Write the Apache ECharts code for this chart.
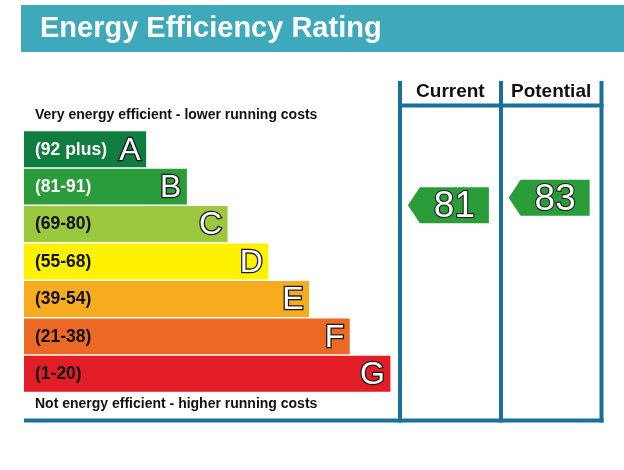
<!DOCTYPE html>
<html><head><meta charset="utf-8">
<script src="https://cdn.jsdelivr.net/npm/echarts@6/dist/echarts.min.js"></script>
<style>html,body{margin:0;padding:0;background:#fff}#c{width:624px;height:470px}</style>
</head><body><div id="c"></div>
<script>
// ---- data ----
const titleText = 'Energy Efficiency Rating';
const topNote = 'Very energy efficient - lower running costs';
const bottomNote = 'Not energy efficient - higher running costs';
const bands = ['A', 'B', 'C', 'D', 'E', 'F', 'G'];
const rangeLabels = ['(92 plus)', '(81-91)', '(69-80)', '(55-68)', '(39-54)', '(21-38)', '(1-20)'];
const bandMin = [92, 81, 69, 55, 39, 21, 1];
const bandMax = [100, 91, 80, 68, 54, 38, 20];
const barLengths = [3, 4, 5, 6, 7, 8, 9];
const columns = ['Current', 'Potential'];
const ratings = [81, 83];

// ---- style ----
const bandColors = ['#0f7d3f', '#2a9c3a', '#9cc83f', '#fff200', '#f7ac20', '#ec6925', '#e31d26'];
const rangeTextColors = ['#ffffff', '#ffffff', '#111111', '#111111', '#111111', '#111111', '#111111'];
const frameColor = '#19709b';
const FONT = '"Liberation Sans", Arial, sans-serif';

function bandIndexOf(v) {
  for (let i = 0; i < bands.length; i++) if (v >= bandMin[i] && v <= bandMax[i]) return i;
  return bands.length - 1;
}
function bandPos(v) {
  const i = bandIndexOf(v);
  return i + 1 - (v - bandMin[i]) / (bandMax[i] - bandMin[i]);
}

const bandData = bands.map((b, i) => [barLengths[i], i]);
const arrowData = ratings.map((v, j) => [j, bandPos(v), v, bandIndexOf(v)]);

const chart = echarts.init(document.getElementById('c'), null, { renderer: 'canvas' });

const GTOP = 130.5, GH = 262;

chart.setOption({
  animation: false,
  backgroundColor: '#ffffff',
  title: {
    text: titleText, left: 40, top: 14, padding: 0,
    textStyle: { color: '#ffffff', fontSize: 29, fontWeight: 'bold', fontFamily: FONT }
  },
  grid: [
    { left: 24, top: GTOP, height: GH, width: 570 },
    { left: 400, top: GTOP, height: GH, width: 201.5 }
  ],
  xAxis: [
    { gridIndex: 0, type: 'value', min: 0, max: 14, show: false },
    { gridIndex: 1, type: 'category', data: columns, position: 'top',
      axisLine: { show: false }, axisTick: { show: false }, splitLine: { show: false },
      axisLabel: { interval: 0, hideOverlap: false, margin: 38.5, verticalAlign: 'middle', color: '#111', fontSize: 19, fontWeight: 'bold', fontFamily: FONT } }
  ],
  yAxis: [
    { gridIndex: 0, type: 'category', data: bands, inverse: true, show: false },
    { gridIndex: 1, type: 'value', min: 0, max: 7, inverse: true, show: false }
  ],
  graphic: [
    { type: 'rect', z: -1, shape: { x: 21, y: 5, width: 603, height: 47 }, style: { fill: '#3ea9ba' } },
    { type: 'text', style: { text: topNote, x: 35, y: 115, verticalAlign: 'middle', font: 'bold 14px ' + FONT, fill: '#111' } },
    { type: 'text', style: { text: bottomNote, x: 35, y: 404, verticalAlign: 'middle', font: 'bold 14px ' + FONT, fill: '#111' } },
    { type: 'line', shape: { x1: 400, y1: 81, x2: 400, y2: 422.5 }, style: { stroke: frameColor, lineWidth: 4 } },
    { type: 'line', shape: { x1: 501, y1: 81, x2: 501, y2: 422.5 }, style: { stroke: frameColor, lineWidth: 4 } },
    { type: 'line', shape: { x1: 601.5, y1: 81, x2: 601.5, y2: 422.5 }, style: { stroke: frameColor, lineWidth: 4 } },
    { type: 'line', shape: { x1: 398, y1: 105.5, x2: 603.5, y2: 105.5 }, style: { stroke: frameColor, lineWidth: 4 } },
    { type: 'line', shape: { x1: 24, y1: 420.5, x2: 603.5, y2: 420.5 }, style: { stroke: frameColor, lineWidth: 4 } }
  ],
  series: [
    {
      type: 'custom', xAxisIndex: 0, yAxisIndex: 0, data: bandData,
      renderItem: function (params, api) {
        const i = api.value(1);
        const end = api.coord([api.value(0), i]);
        const start = api.coord([0, i]);
        const bh = api.size([0, 1])[1] - 1.5;
        return {
          type: 'group', children: [
            { type: 'rect', shape: { x: start[0], y: end[1] - bh / 2, width: end[0] - start[0], height: bh }, style: { fill: bandColors[i] } },
            { type: 'text', style: { text: rangeLabels[i], x: start[0] + 11, y: end[1] + 0.5, verticalAlign: 'middle', font: 'bold 17.5px ' + FONT, fill: rangeTextColors[i] } },
            { type: 'text', style: { text: bands[i], x: end[0] - 5.5, y: end[1] + 1.5, align: 'right', verticalAlign: 'middle', font: '32px ' + FONT, fill: '#ffffff', stroke: '#1a1a1a', lineWidth: 2.6, strokeFirst: true, lineJoin: 'round' } }
          ]
        };
      }
    },
    {
      type: 'custom', xAxisIndex: 1, yAxisIndex: 1, data: arrowData,
      renderItem: function (params, api) {
        const c = api.coord([api.value(0), api.value(1)]);
        const col = bandColors[api.value(3)];
        const x = c[0], y = c[1];
        return {
          type: 'group', children: [
            { type: 'polygon', shape: { points: [[x - 42.5, y], [x - 30.5, y - 18], [x + 38.5, y - 18], [x + 38.5, y + 18], [x - 30.5, y + 18]] }, style: { fill: col } },
            { type: 'text', style: { text: String(api.value(2)), x: x + 4, y: y + 1.5, align: 'center', verticalAlign: 'middle', font: '37px ' + FONT, fill: '#ffffff', stroke: '#1a1a1a', lineWidth: 2.2, strokeFirst: true, lineJoin: 'round' } }
          ]
        };
      }
    }
  ]
});
</script>
</body></html>
